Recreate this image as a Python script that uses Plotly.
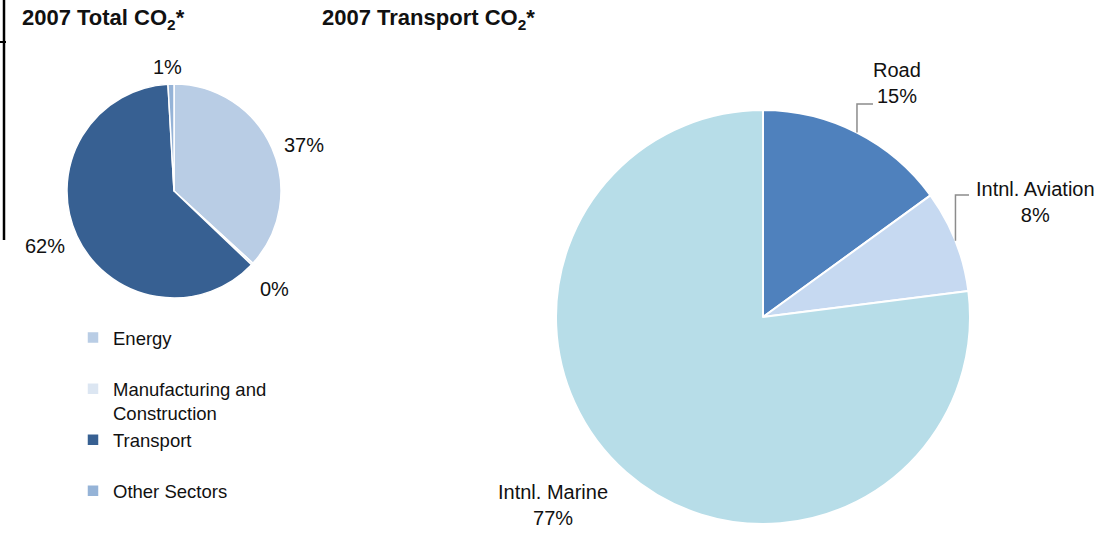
import math
import plotly.graph_objects as go

# Data
total_legend = ["Energy<br> ", "Manufacturing and<br>Construction", "Transport<br> ", "Other Sectors"]
total_values = [36.8, 0.3, 62.0, 0.9]
total_colors = ["#b9cde5", "#dce6f2", "#376092", "#95b3d7"]

transport_labels = ["Road", "Intnl. Aviation", "Intnl. Marine"]
transport_values = [15, 8, 77]
transport_colors = ["#4f81bd", "#c6d9f1", "#b7dde8"]

W, H = 1103, 543
FONT = "Liberation Sans, Arial, sans-serif"
TXT = "#111"

# pie geometry (pixels)
L_CX, L_CY, L_R = 174, 191, 107
R_CX, R_CY, R_R = 763, 317, 207

def px(x):
    return x / W

def py(y):
    return 1 - y / H

def pct(vals, i):
    return f"{round(vals[i] / sum(vals) * 100)}%"

fig = go.Figure()

fig.add_trace(go.Pie(
    labels=total_legend,
    values=total_values,
    sort=False,
    direction="clockwise",
    rotation=0,
    marker=dict(colors=total_colors, line=dict(color="white", width=1.5)),
    textinfo="none",
    hoverinfo="label+percent",
    domain=dict(x=[px(L_CX - L_R), px(L_CX + L_R)], y=[py(L_CY + L_R), py(L_CY - L_R)]),
    showlegend=True,
))

fig.add_trace(go.Pie(
    labels=transport_labels,
    values=transport_values,
    sort=False,
    direction="clockwise",
    rotation=0,
    marker=dict(colors=transport_colors, line=dict(color="white", width=2)),
    textinfo="none",
    hoverinfo="label+percent",
    domain=dict(x=[px(R_CX - R_R), px(R_CX + R_R)], y=[py(R_CY + R_R), py(R_CY - R_R)]),
    showlegend=False,
))

annotations = [
    dict(text="<b>2007 Total CO<sub>2</sub>*</b>", x=px(20), y=py(3),
         xanchor="left", yanchor="top", font=dict(size=22, family=FONT, color=TXT)),
    dict(text="<b>2007 Transport CO<sub>2</sub>*</b>", x=px(320), y=py(3),
         xanchor="left", yanchor="top", font=dict(size=22, family=FONT, color=TXT)),
]

# left pie percentage labels (label positions in pixels)
left_label_pos = [(304, 145), (274, 289), (45, 246), (167, 67)]
for i, (lx, ly) in enumerate(left_label_pos):
    annotations.append(dict(text=pct(total_values, i), x=px(lx), y=py(ly),
                            xanchor="center", yanchor="middle",
                            font=dict(size=20, family=FONT, color=TXT)))

# right pie labels
right_label_pos = [(897, 83), (1035, 202), (553, 505)]
for i, (lx, ly) in enumerate(right_label_pos):
    annotations.append(dict(text=f"{transport_labels[i]}<br>{pct(transport_values, i)}",
                            x=px(lx), y=py(ly), xanchor="center", yanchor="middle",
                            font=dict(size=20, family=FONT, color=TXT)))

for a in annotations:
    a.update(xref="paper", yref="paper", showarrow=False)

shapes = [
    dict(type="line", xref="paper", yref="paper", x0=px(4), x1=px(4),
         y0=1, y1=py(240), line=dict(color="black", width=2.5)),
    dict(type="line", xref="paper", yref="paper", x0=0, x1=px(6),
         y0=py(42), y1=py(42), line=dict(color="black", width=2)),
]

# leader lines for Road and Intnl. Aviation, starting at slice mid-angle on the rim
leader_targets = {0: (104, 873), 1: (195, 969)}
cum = 0.0
tot = sum(transport_values)
for i, v in enumerate(transport_values):
    mid = (cum + v / 2) / tot * 2 * math.pi
    cum += v
    if i in leader_targets:
        ey, ex = leader_targets[i]
        sx = R_CX + R_R * math.sin(mid)
        sy = R_CY - R_R * math.cos(mid)
        path = f"M {px(sx)} {py(sy)} L {px(sx)} {py(ey)} L {px(ex)} {py(ey)}"
        shapes.append(dict(type="path", xref="paper", yref="paper", path=path,
                           line=dict(color="#8c8c8c", width=1.5)))

fig.update_layout(
    width=W, height=H,
    margin=dict(l=0, r=0, t=0, b=0),
    paper_bgcolor="white",
    plot_bgcolor="white",
    font=dict(family=FONT, size=19, color=TXT),
    legend=dict(
        x=px(73), y=py(319), xanchor="left", yanchor="top",
        valign="top",
        font=dict(size=18.5, family=FONT, color=TXT),
        itemwidth=30,
        bgcolor="rgba(0,0,0,0)",
    ),
    annotations=annotations,
    shapes=shapes,
)

fig.write_html("out.html", config={"displayModeBar": False},
               post_script="document.body.style.margin='0px';")
